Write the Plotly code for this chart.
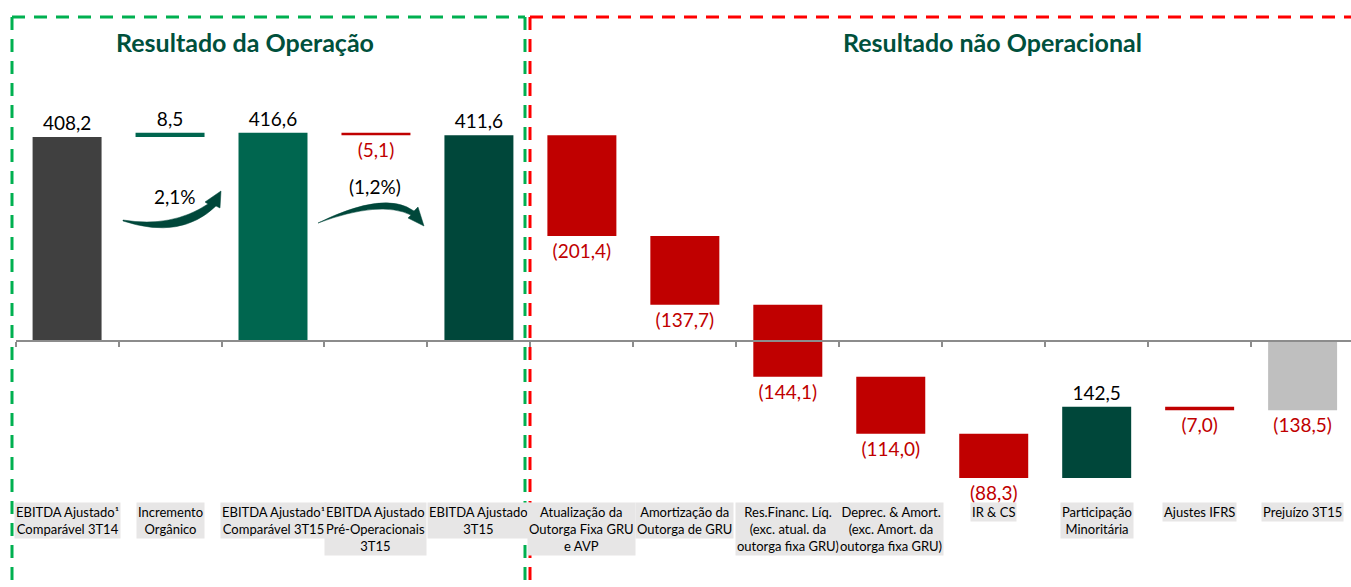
import plotly.graph_objects as go

W, H = 1351, 587

# ---------------- data ----------------
categories = [
    "EBITDA Ajustado¹ Comparável 3T14", "Incremento Orgânico",
    "EBITDA Ajustado¹ Comparável 3T15", "EBITDA Ajustado Pré-Operacionais 3T15",
    "EBITDA Ajustado 3T15", "Atualização da Outorga Fixa GRU e AVP",
    "Amortização da Outorga de GRU", "Res.Financ. Líq. (exc. atual. da outorga fixa GRU)",
    "Deprec. & Amort. (exc. Amort. da outorga fixa GRU)", "IR & CS",
    "Participação Minoritária", "Ajustes IFRS", "Prejuízo 3T15",
]
tick_labels = [
    "EBITDA Ajustado¹<br>Comparável 3T14", "Incremento<br>Orgânico",
    "EBITDA Ajustado¹<br>Comparável 3T15", "EBITDA Ajustado<br>Pré-Operacionais<br>3T15",
    "EBITDA Ajustado<br>3T15", "Atualização da<br>Outorga Fixa GRU<br>e AVP",
    "Amortização da<br>Outorga de GRU", "Res.Financ. Líq.<br>(exc. atual. da<br>outorga fixa GRU)",
    "Deprec. & Amort.<br>(exc. Amort. da<br>outorga fixa GRU)", "IR & CS",
    "Participação<br>Minoritária", "Ajustes IFRS", "Prejuízo 3T15",
]
values = [408.2, 8.5, 416.6, -5.1, 411.6, -201.4, -137.7, -144.1, -114.0, -88.3, 142.5, -7.0, -138.5]
is_total = [True, False, True, False, True, False, False, False, False, False, False, False, True]
growth_labels = ["2,1%", "(1,2%)"]
section_titles = ["Resultado da Operação", "Resultado não Operacional"]

bar_colors = ["#404040", "#00664F", "#00664F", "#C00000", "#00473A",
              "#C00000", "#C00000", "#C00000", "#C00000", "#C00000",
              "#00473A", "#C00000", "#BFBFBF"]

# ---------------- waterfall geometry from data ----------------
bases, heights = [], []
running = 0.0
for v, t in zip(values, is_total):
    if t:
        bases.append(0.0)
        heights.append(v)
        running = v
    else:
        bases.append(running)
        heights.append(v)
        running += v


def fmt(v):
    s = f"{abs(v):.1f}".replace(".", ",")
    return f"({s})" if v < 0 else s


texts = [fmt(v) for v in values]
text_colors = ["#C00000" if v < 0 else "#000000" for v in values]

FONT = "Lato"

# pixel -> paper helpers (margins are zero, so paper == figure)
def px(x):
    return x / W


def py(y):
    return (H - y) / H


fig = go.Figure()
fig.add_trace(go.Bar(
    x=categories, y=heights, base=bases,
    marker=dict(color=bar_colors, line=dict(width=0)),
    width=0.67,
    text=texts, textposition="outside",
    textfont=dict(family=FONT, size=19, color=text_colors),
    constraintext="none", cliponaxis=False,
    hoverinfo="skip",
))

# plot area: x 15.6..1351 px, y 60..500 px ; zero at y=341, 0.5 px / unit
y_top, y_bot, y_zero, scale = 60, 500, 341, 0.5
ymax = (y_zero - y_top) / scale
ymin = -(y_bot - y_zero) / scale

fig.update_layout(
    width=W, height=H,
    margin=dict(l=0, r=0, t=0, b=0),
    paper_bgcolor="white", plot_bgcolor="rgba(0,0,0,0)",
    showlegend=False,
    font=dict(family=FONT, size=13, color="black"),
    xaxis=dict(
        domain=[px(15.6), 1.0],
        anchor="free", position=py(y_zero),
        type="category", range=[-0.5, 12.47],
        showline=True, linecolor="#8C8C8C", linewidth=2,
        ticks="outside", tickson="boundaries", ticklen=5, tickcolor="#8C8C8C", tickwidth=1.5,
        showticklabels=False, showgrid=False, zeroline=False, fixedrange=True,
    ),
    yaxis=dict(
        domain=[py(y_bot), py(y_top)],
        range=[ymin, ymax], visible=False, fixedrange=True,
    ),
)

annotations = []
# category labels with grey background
for cat, lab in zip(categories, tick_labels):
    annotations.append(dict(
        x=cat, xref="x", y=py(502), yref="paper",
        text=lab, showarrow=False, yanchor="top", xanchor="center",
        align="center", bgcolor="#E7E6E6", borderpad=1,
        font=dict(family=FONT, size=13, color="black"),
    ))

def centered(x, y, text, size, color):
    return dict(x=px(x), y=py(y), xref="paper", yref="paper", text=text,
                showarrow=False, xanchor="center", yanchor="middle",
                font=dict(family=FONT, size=size, color=color))

annotations.append(centered(245, 42, f"<b>{section_titles[0]}</b>", 25, "#00503C"))
annotations.append(centered(992, 42, f"<b>{section_titles[1]}</b>", 25, "#00503C"))
annotations.append(centered(175, 196, growth_labels[0], 19, "black"))
annotations.append(centered(375, 186, growth_labels[1], 19, "black"))
fig.update_layout(annotations=annotations)


def path(cmds):
    out = []
    for c in cmds:
        if isinstance(c, str):
            out.append(c)
        else:
            out.append(f"{px(c[0]):.5f},{py(c[1]):.5f}")
    return " ".join(out)


shapes = []
# dashed frames
green, red = "#00B050", "#FF0000"
dash = "13px,9px"
for (x0, y0, x1, y1, col) in [
    (12, 17, 12, H, green), (12, 17, 525, 17, green), (525, 17, 525, H, green),
    (530, 17, 530, H, red), (530, 17, W, 17, red),
]:
    shapes.append(dict(type="line", xref="paper", yref="paper",
                       x0=px(x0), y0=py(y0), x1=px(x1), y1=py(y1),
                       line=dict(color=col, width=3, dash=dash)))

arrow_col = "#00473A"
# curved arrow 1 (rising)
p1 = path(["M", (123, 220), "Q", (172, 228), (208, 204), "L", (205, 202), "L", (221, 191),
           "L", (220, 208), "L", (216, 206), "Q", (181, 240), (123, 221), "Z"])
# curved arrow 2 (arc, descending)
p2 = path(["M", (318, 223), "Q", (385, 190), (414, 211), "L", (418, 207), "L", (424, 226),
           "L", (408, 218), "L", (411, 215), "Q", (380, 200), (318, 223), "Z"])
for p in (p1, p2):
    shapes.append(dict(type="path", xref="paper", yref="paper", path=p,
                       fillcolor=arrow_col, line=dict(color=arrow_col, width=0.5)))
fig.update_layout(shapes=shapes)

fig.write_html("out.html", config={"displayModeBar": False},
               post_script="document.body.style.margin='0px';")
